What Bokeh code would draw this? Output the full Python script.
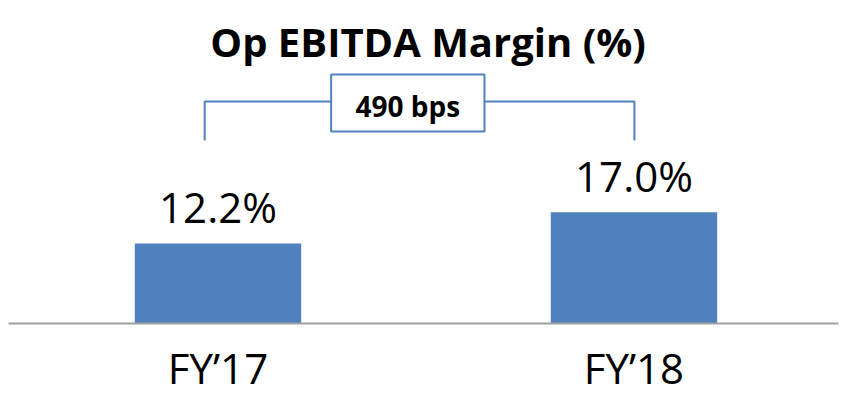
from bokeh.plotting import figure
from bokeh.models import Range1d, FixedTicker, Label, ColumnDataSource
from bokeh.embed import file_html
from bokeh.resources import INLINE
from bokeh.core.properties import value

# ---- data ----
categories = ["FY\u201917", "FY\u201918"]
margins = [12.2, 17.0]
value_labels = ["12.2%", "17.0%"]
change_label = "490 bps"
title_text = "Op EBITDA Margin (%)"

BLUE = "#4f81bd"
FONT = "Open Sans"

xs = [i + 0.5 for i in range(len(categories))]

p = figure(width=846, height=403, output_backend="svg", toolbar_location=None,
           title=None, min_border=0, min_border_left=8, min_border_right=8,
           min_border_bottom=80,
           x_range=Range1d(-0.0036, 1.9916), y_range=Range1d(0, 49.31))
p.outline_line_color = None
p.xgrid.visible = False
p.ygrid.visible = False
p.yaxis.visible = False
p.background_fill_color = "white"
p.border_fill_color = "white"

src = ColumnDataSource(dict(x=xs, top=margins, lab=value_labels))
p.vbar(x="x", top="top", bottom=0, width=0.4, source=src,
       fill_color=BLUE, line_color=None)

p.text(x="x", y="top", text="lab", source=src, text_align="center",
       text_baseline="middle", y_offset=-37,
       text_font=value(FONT), text_font_size="42px", text_color="black")

xa = p.xaxis[0]
xa.ticker = FixedTicker(ticks=xs)
xa.major_label_overrides = {x: c for x, c in zip(xs, categories)}
xa.axis_line_color = "#a0a0a0"
xa.axis_line_width = 2
xa.major_tick_line_color = None
xa.minor_tick_line_color = None
xa.major_label_text_font = FONT
xa.major_label_text_font_size = "42px"
xa.major_label_text_color = "black"
xa.major_label_standoff = 9

# bracket showing change
top_val = max(margins)
br_low = top_val + 10.94
br_high = top_val + 16.9
box_left, box_right = xs[0] + 0.272, xs[0] + 0.6406
box_bottom, box_top = top_val + 12.31, top_val + 21.02
xl = xs[0] - 0.032
xr = xs[1] + 0.001

p.line([xl, xl, box_left], [br_low, br_high, br_high], line_color=BLUE, line_width=2)
p.line([box_right, xr, xr], [br_high, br_high, br_low], line_color=BLUE, line_width=2)
p.quad(left=[box_left], right=[box_right], bottom=[box_bottom], top=[box_top],
       fill_color="white", line_color=BLUE, line_width=2)
p.text(x=[(box_left + box_right) / 2], y=[top_val + 16.28], text=[change_label],
       text_align="center", text_baseline="middle",
       text_font=value(FONT), text_font_size="28px", text_font_style="bold",
       text_color="black")

p.add_layout(Label(x=(xs[0] + xs[1]) / 2 + 0.005, y=42.98, text=title_text,
                   text_align="center", text_baseline="middle",
                   text_font=FONT, text_font_size="40px", text_font_style="bold",
                   text_color="black"))

open("out.html", "w").write(file_html(p, INLINE))
